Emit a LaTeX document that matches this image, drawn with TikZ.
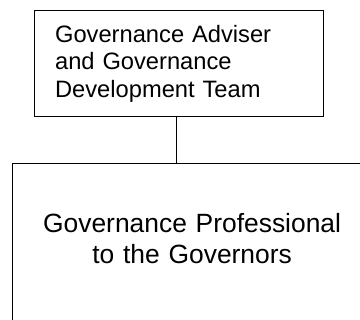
\documentclass[tikz,border=0pt]{standalone}
\usepackage{fontspec}
\setmainfont{Liberation Sans}
\tikzset{box/.style={draw, line width=1.2pt, rectangle}}
\begin{document}
\begin{tikzpicture}[x=1pt, y=-1pt]
            \clip (0, 0) rectangle (360, 320);
            % Kaesten
            \node [box, anchor=north west, minimum width=289pt, minimum height=106pt,
                   inner xsep=20.5pt, text width=248pt, align=left,
                   font=\fontsize{23.7}{27.5}\selectfont]
                  (adviser) at (34, 10) {Governance Adviser\\and Governance\\Development Team};
            \node [box, anchor=north west, inner xsep=10pt, inner ysep=49.5pt,
                   text width=339pt, align=center, text depth=110pt,
                   font=\fontsize{26.4}{31.4}\selectfont]
                  (professional) at (12, 163) {Governance Professional\\to the Governors};
            % Verbindung
            \draw [line width=1.2pt] ([xshift=-2.5pt]adviser.south) -- ([xshift=-2.5pt]adviser.south |- professional.north);
        \end{tikzpicture}
\end{document}
